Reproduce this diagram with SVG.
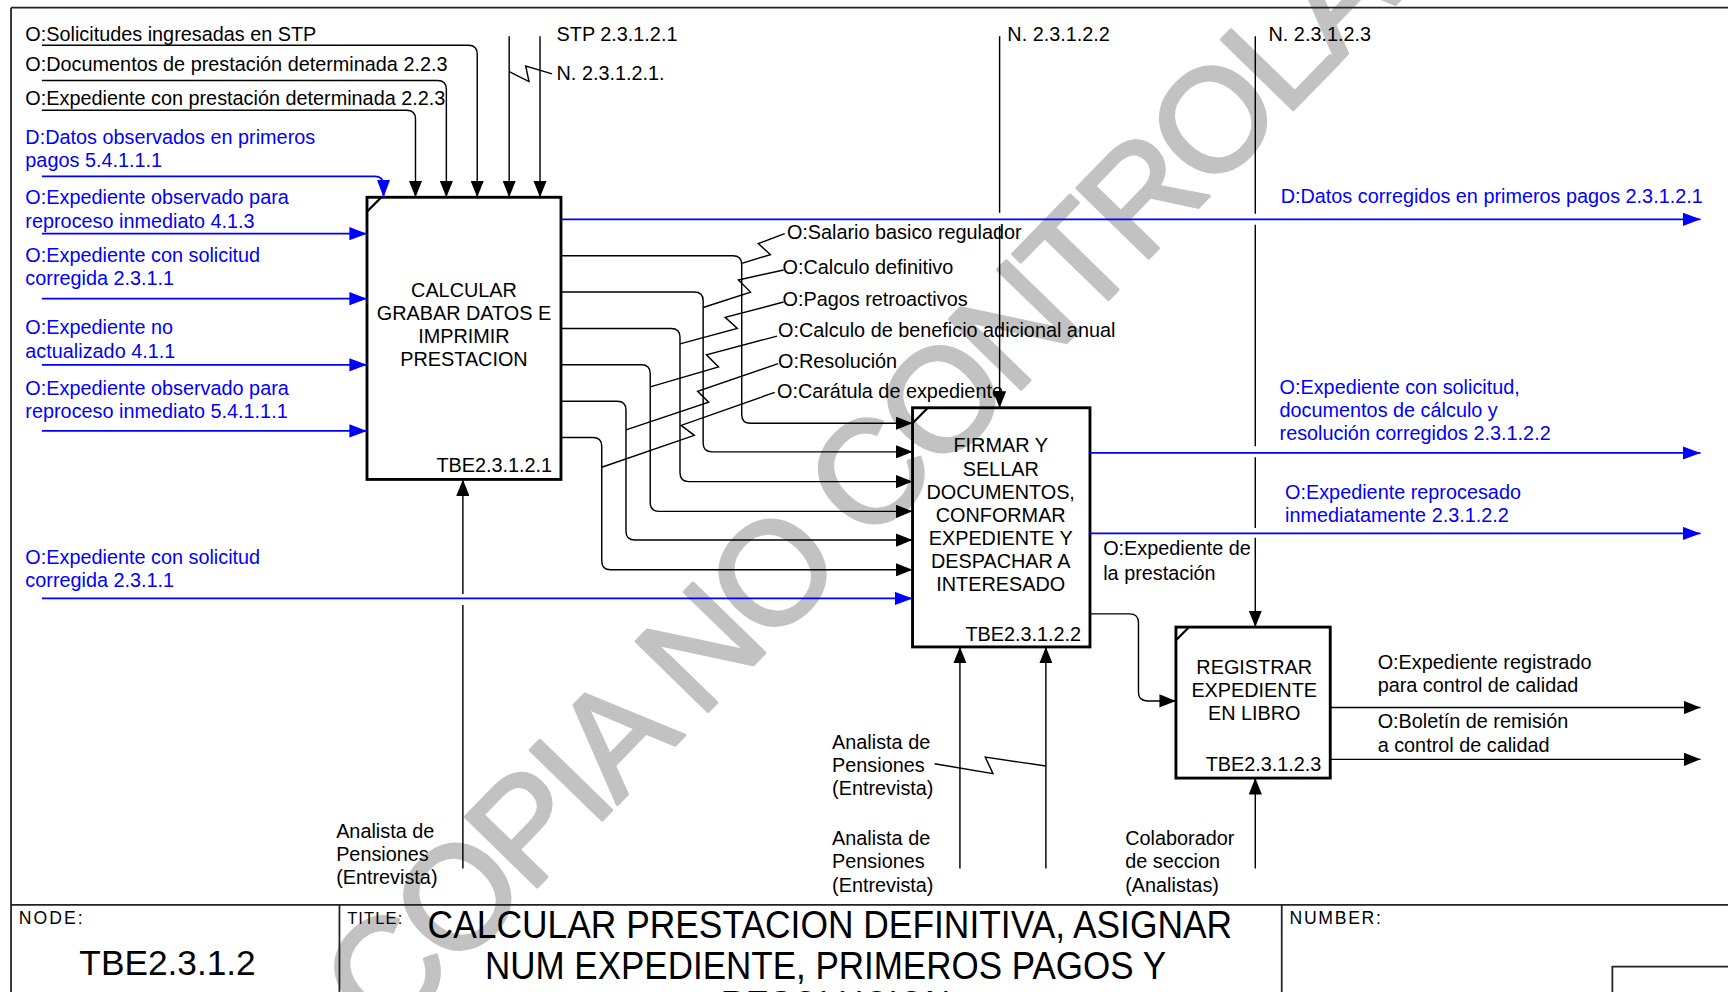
<svg xmlns="http://www.w3.org/2000/svg" width="1728" height="992" viewBox="0 0 1728 992">
<defs>
<style>
text{font-family:"Liberation Sans",Arial,sans-serif;font-size:18px;fill:#000}
.b{fill:#0000ff}
.c{text-anchor:middle}
.e{text-anchor:end}
.ln{stroke:#000;stroke-width:1.3;fill:none}
.bl{stroke:#0000ff;stroke-width:1.6;fill:none}
.ar{marker-end:url(#ah)}
.ab{marker-end:url(#ahb)}
.box{fill:none;stroke:#000;stroke-width:2.6}
.fr{stroke:#222;stroke-width:1.6;fill:none}
.wm{font-size:132px;letter-spacing:-5px;fill:#c2c2c2;stroke:#c2c2c2;stroke-width:3;stroke-linejoin:round}
</style>
<marker id="ah" viewBox="0 0 15 12" refX="15" refY="6" markerWidth="15" markerHeight="12" orient="auto" markerUnits="userSpaceOnUse"><path d="M0,0 L15,6 L0,12 z" fill="#000"/></marker>
<marker id="ahb" viewBox="0 0 16 12" refX="16" refY="6" markerWidth="16" markerHeight="12" orient="auto" markerUnits="userSpaceOnUse"><path d="M0,0 L16,6 L0,12 z" fill="#0000ff"/></marker>
</defs>
<rect width="1728" height="992" fill="#fff"/>
<g transform="scale(1.1021)">
<g id="watermark"><text class="wm" transform="translate(349,947) rotate(-45.8)">COPIA NO CONTROLADA</text></g>

<g id="frame">
<path class="fr" d="M10,7 H1568 M10,7 V900 M10,821 H1568 M308,821 V900 M1163,821 V900 M1463,900 V877 H1568"/>
<text x="17" y="838" style="font-size:16px" textLength="58">NODE:</text>
<text x="72" y="885" style="font-size:32px" textLength="160">TBE2.3.1.2</text>
<text x="315" y="838" style="font-size:15px" textLength="50">TITLE:</text>
<text x="388" y="851" style="font-size:35px" textLength="730" lengthAdjust="spacingAndGlyphs">CALCULAR PRESTACION DEFINITIVA, ASIGNAR</text>
<text x="440" y="888" style="font-size:35px" textLength="618" lengthAdjust="spacingAndGlyphs">NUM EXPEDIENTE, PRIMEROS PAGOS Y</text>
<text x="654" y="924" style="font-size:35px" textLength="208" lengthAdjust="spacingAndGlyphs">RESOLUCION</text>
<text x="1170" y="838" style="font-size:16px" textLength="83">NUMBER:</text>
</g>

<g id="box1">
<rect class="box" x="333" y="179" width="176" height="256"/>
<path class="ln" style="stroke-width:2" d="M333,192 L346,179"/>
<text class="c" x="421" y="269.5">CALCULAR</text>
<text class="c" x="421" y="290.5">GRABAR DATOS E</text>
<text class="c" x="421" y="311.5">IMPRIMIR</text>
<text class="c" x="421" y="332.5">PRESTACION</text>
<text class="e" x="501" y="428.5">TBE2.3.1.2.1</text>
</g>

<g id="box2">
<rect class="box" x="828" y="370" width="161" height="217"/>
<path class="ln" style="stroke-width:2" d="M828,384 L842,370"/>
<text class="c" x="908" y="410.5">FIRMAR Y</text>
<text class="c" x="908" y="431.5">SELLAR</text>
<text class="c" x="908" y="452.5">DOCUMENTOS,</text>
<text class="c" x="908" y="473.5">CONFORMAR</text>
<text class="c" x="908" y="494.5">EXPEDIENTE Y</text>
<text class="c" x="908" y="515.5">DESPACHAR A</text>
<text class="c" x="908" y="536.5">INTERESADO</text>
<text class="e" x="981" y="581.5">TBE2.3.1.2.2</text>
</g>

<g id="box3">
<rect class="box" x="1067" y="569" width="140" height="137"/>
<path class="ln" style="stroke-width:2" d="M1067,581 L1079,569"/>
<text class="c" x="1138" y="611.5">REGISTRAR</text>
<text class="c" x="1138" y="632.5">EXPEDIENTE</text>
<text class="c" x="1138" y="653.5">EN LIBRO</text>
<text class="e" x="1199" y="700">TBE2.3.1.2.3</text>
</g>

<g id="connectors">
<path class="ln ar" d="M38,41 H425 Q433,41 433,49 V179"/>
<path class="ln ar" d="M38,73 H397 Q405,73 405,81 V179"/>
<path class="ln ar" d="M38,100 H369 Q377,100 377,108 V179"/>
<path class="ln ar" d="M462,33 V179"/>
<path class="ln ar" d="M490,33 V179"/>
<path class="ln" d="M462,65 L480,74 L477,60 L501,67"/>
<path class="bl ab" d="M38,160 H340 Q348,160 348,168 V179"/>
<path class="bl ab" d="M38,212 H333"/>
<path class="bl ab" d="M38,271 H333"/>
<path class="bl ab" d="M38,331 H333"/>
<path class="bl ab" d="M38,391 H333"/>
<path class="bl ab" d="M38,543 H828"/>
<path class="bl ab" d="M509,199 H1543"/>
<path class="ln ar" d="M509,232 H665 Q673,232 673,240 V376 Q673,384 681,384 H828"/>
<path class="ln ar" d="M509,265 H630 Q638,265 638,273 V402 Q638,410 646,410 H828"/>
<path class="ln ar" d="M509,298 H609 Q617,298 617,306 V429 Q617,437 625,437 H828"/>
<path class="ln ar" d="M509,331 H582 Q590,331 590,339 V456 Q590,464 598,464 H828"/>
<path class="ln ar" d="M509,364 H560 Q568,364 568,372 V482 Q568,490 576,490 H828"/>
<path class="ln ar" d="M509,397 H538 Q546,397 546,405 V509 Q546,517 554,517 H828"/>
<path class="ln" d="M712,212 L688,221 L699,231 L673,239"/>
<path class="ln" d="M711,245 L670,254 L681,265 L638,279"/>
<path class="ln" d="M711,274 L658,288 L669,298 L617,312"/>
<path class="ln" d="M705,305 L641,322 L652,333 L590,351"/>
<path class="ln" d="M706,330 L633,355 L643,365 L568,390"/>
<path class="ln" d="M703,356 L618,386 L630,395 L546,424"/>
<path class="ln ar" d="M907,33 V193 M907,205 V370"/>
<path class="ln ar" d="M1139,33 V194 M1139,204 V405 M1139,415 V479 M1139,488 V569"/>
<path class="bl ab" d="M989,411 H1543"/>
<path class="bl ab" d="M989,484 H1543"/>
<path class="ln ar" d="M989,557 H1025 Q1033,557 1033,565 V628 Q1033,636 1041,636 H1067"/>
<path class="ln ar" d="M1207,642 H1543"/>
<path class="ln ar" d="M1207,689 H1543"/>
<path class="ln ar" d="M420,788 V549 M420,539 V435"/>
<path class="ln ar" d="M871,788 V587"/>
<path class="ln ar" d="M949,788 V587"/>
<path class="ln" d="M848,693 L901,702 L894,687 L949,695"/>
<path class="ln ar" d="M1139,788 V706"/>
</g>

<g id="labels">
<text x="23" y="37.5">O:Solicitudes ingresadas en STP</text>
<text x="23" y="64">O:Documentos de prestación determinada 2.2.3</text>
<text x="23" y="95.5">O:Expediente con prestación determinada 2.2.3</text>
<text class="b" x="23" y="130.5">D:Datos observados en primeros</text>
<text class="b" x="23" y="151.5">pagos 5.4.1.1.1</text>
<text class="b" x="23" y="185.5">O:Expediente observado para</text>
<text class="b" x="23" y="206.5">reproceso inmediato 4.1.3</text>
<text class="b" x="23" y="237.5">O:Expediente con solicitud</text>
<text class="b" x="23" y="258.5">corregida 2.3.1.1</text>
<text class="b" x="23" y="303.5">O:Expediente no</text>
<text class="b" x="23" y="324.5">actualizado 4.1.1</text>
<text class="b" x="23" y="358.5">O:Expediente observado para</text>
<text class="b" x="23" y="379.5">reproceso inmediato 5.4.1.1.1</text>
<text class="b" x="23" y="511.5">O:Expediente con solicitud</text>
<text class="b" x="23" y="532.5">corregida 2.3.1.1</text>
<text x="505" y="37.5">STP 2.3.1.2.1</text>
<text x="505" y="73">N. 2.3.1.2.1.</text>
<text x="914" y="37.5">N. 2.3.1.2.2</text>
<text x="1151" y="37.5">N. 2.3.1.2.3</text>
<text class="b" x="1162" y="184">D:Datos corregidos en primeros pagos 2.3.1.2.1</text>
<text x="714" y="217">O:Salario basico regulador</text>
<text x="710" y="249">O:Calculo definitivo</text>
<text x="710" y="278">O:Pagos retroactivos</text>
<text x="706" y="306">O:Calculo de beneficio adicional anual</text>
<text x="706" y="334">O:Resolución</text>
<text x="705" y="361">O:Carátula de expediente</text>
<text class="b" x="1161" y="357.5">O:Expediente con solicitud,</text>
<text class="b" x="1161" y="378.5">documentos de cálculo y</text>
<text class="b" x="1161" y="399.5">resolución corregidos 2.3.1.2.2</text>
<text class="b" x="1166" y="453">O:Expediente reprocesado</text>
<text class="b" x="1166" y="474">inmediatamente 2.3.1.2.2</text>
<text x="1001" y="504">O:Expediente de</text>
<text x="1001" y="526">la prestación</text>
<text x="1250" y="607">O:Expediente registrado</text>
<text x="1250" y="628">para control de calidad</text>
<text x="1250" y="661">O:Boletín de remisión</text>
<text x="1250" y="682">a control de calidad</text>
<text x="305" y="760.5">Analista de</text>
<text x="305" y="781.5">Pensiones</text>
<text x="305" y="802.5">(Entrevista)</text>
<text x="755" y="679.5">Analista de</text>
<text x="755" y="700.5">Pensiones</text>
<text x="755" y="721.5">(Entrevista)</text>
<text x="755" y="767">Analista de</text>
<text x="755" y="788">Pensiones</text>
<text x="755" y="809">(Entrevista)</text>
<text x="1021" y="767">Colaborador</text>
<text x="1021" y="788">de seccion</text>
<text x="1021" y="809">(Analistas)</text>
</g>
</g>
</svg>
